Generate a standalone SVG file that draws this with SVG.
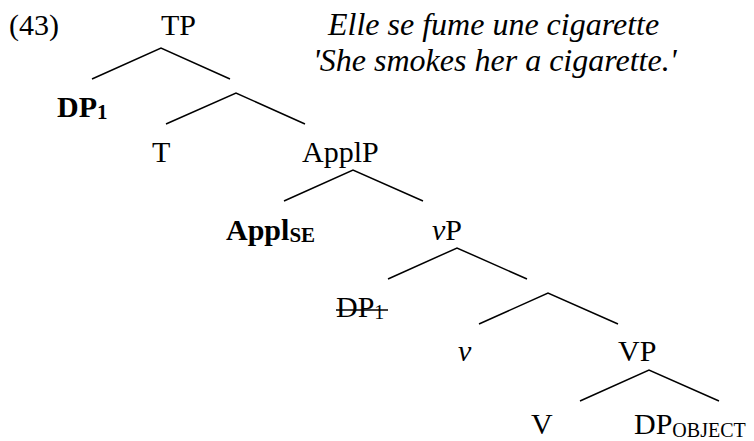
<svg xmlns="http://www.w3.org/2000/svg" width="754" height="441" viewBox="0 0 754 441">
  <style>
    text { font-family: "Liberation Serif", "Times New Roman", serif; font-size: 30px; fill: #000; }
    .b { font-weight: bold; }
    .i { font-style: italic; }
    .gloss { font-style: italic; font-size: 32px; }
    .sub { font-size: 20px; }
    .bsub { font-size: 21px; }
    .branch { stroke: #000; stroke-width: 1.5; fill: none; }
  </style>
  <rect width="754" height="441" fill="#fff"/>

  <text id="ex-num" x="9" y="35">(43)</text>
  <g id="gloss">
    <text class="gloss" x="328" y="35">Elle se fume une cigarette</text>
    <text class="gloss" x="313" y="71">'She smokes her a cigarette.'</text>
  </g>

  <g id="connectors">
    <polyline class="branch" points="92,79 161,48 230,79"/>
    <polyline class="branch" points="166,124 236,93 305,124"/>
    <polyline class="branch" points="284,201 353,170 423,201"/>
    <polyline class="branch" points="388,279 457,248 527,279"/>
    <polyline class="branch" points="479,324 548,293 618,324"/>
    <polyline class="branch" points="580,401 649,370 719,401"/>
  </g>

  <g id="TP"><text x="161" y="35">TP</text></g>
  <g id="DP1"><text class="b" x="57" y="117">DP<tspan class="bsub" dy="2">1</tspan></text></g>
  <g id="T"><text x="152" y="162">T</text></g>
  <g id="ApplP"><text x="302" y="162">ApplP</text></g>
  <g id="ApplSE"><text class="b" x="226" y="240">Appl<tspan class="bsub" dy="2">SE</tspan></text></g>
  <g id="vP"><text x="432" y="240"><tspan class="i">v</tspan>P</text></g>
  <g id="DP1-copy">
    <text x="336" y="317">DP<tspan class="sub" dy="2">1</tspan></text>
    <line x1="336" y1="310" x2="388" y2="310" stroke="#000" stroke-width="1.5"/>
  </g>
  <g id="v"><text class="i" x="458" y="361">v</text></g>
  <g id="VP"><text x="618" y="361">VP</text></g>
  <g id="V"><text x="531" y="434">V</text></g>
  <g id="DPobj"><text x="634" y="434">DP<tspan class="sub" dy="3">OBJECT</tspan></text></g>
</svg>
